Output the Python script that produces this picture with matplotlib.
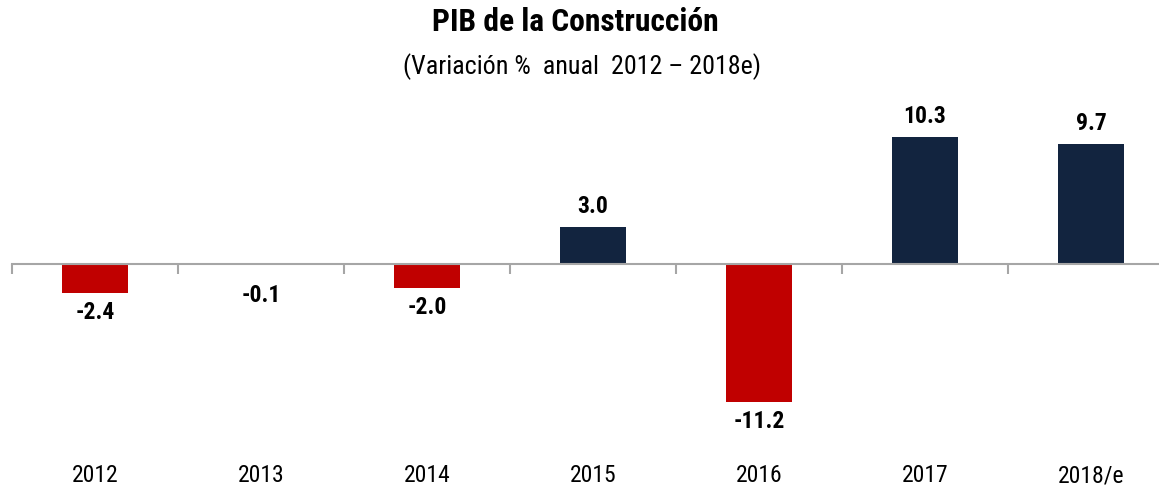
import matplotlib
matplotlib.use("Agg")
import matplotlib.pyplot as plt
from matplotlib.transforms import blended_transform_factory

# data
years = ["2012", "2013", "2014", "2015", "2016", "2017", "2018/e"]
growth = [-2.4, -0.1, -2.0, 3.0, -11.2, 10.3, 9.7]

red = "#C00000"
navy = "#12243F"

# narrow sans first, plain sans as fallback
plt.rcParams["font.family"] = ["Liberation Sans Narrow", "Roboto Condensed",
                               "Liberation Sans", "DejaVu Sans"]

fig = plt.figure(figsize=(11.59, 4.87), dpi=100)
# zero line at y~262 px, ~12.4 px per unit
ax = fig.add_axes([12 / 1159, 1 - 417.5 / 487, 1 - 12 / 1159, 0.6063])

x = list(range(len(years)))
colors = [navy if v >= 0 else red for v in growth]
ax.bar(x, growth, width=0.4, color=colors, zorder=2)

ax.set_xlim(-0.5, 6.41)
ax.set_ylim(-12.5, 11.5)

for s in ["top", "right", "left"]:
    ax.spines[s].set_visible(False)
ax.spines["bottom"].set_position(("data", 0))
ax.spines["bottom"].set_color("#A6A6A6")
ax.spines["bottom"].set_linewidth(1.5)
ax.set_yticks([])
ax.set_xticks([i - 0.5 for i in range(len(years))])
ax.tick_params(axis="x", direction="out", length=7, width=1.5, color="#A6A6A6",
               labelbottom=False)

# value labels (small negatives get pushed a bit below the axis)
for i, v in enumerate(growth):
    if v >= 0:
        ax.annotate(f"{v:.1f}", (i, v), xytext=(0, 9), textcoords="offset pixels",
                    ha="center", va="bottom", fontsize=17, fontweight="bold")
    else:
        ax.annotate(f"{v:.1f}", (i, min(v, -1.0)), xytext=(0, -8),
                    textcoords="offset pixels", ha="center", va="top",
                    fontsize=17, fontweight="bold")

# category labels at bottom
tr = blended_transform_factory(ax.transData, fig.transFigure)
for i, y in enumerate(years):
    ax.text(i, 1 - 476 / 487, y, transform=tr, ha="center", va="center", fontsize=17)

fig.text(575 / 1159, 1 - 22 / 487, "PIB de la Construcción", ha="center",
         va="center", fontsize=22.7, fontweight="bold")
fig.text(581.5 / 1159, 1 - 67 / 487, "(Variación %  anual  2012 – 2018e)",
         ha="center", va="center", fontsize=18.7)

fig.savefig("out.png", dpi=100)
